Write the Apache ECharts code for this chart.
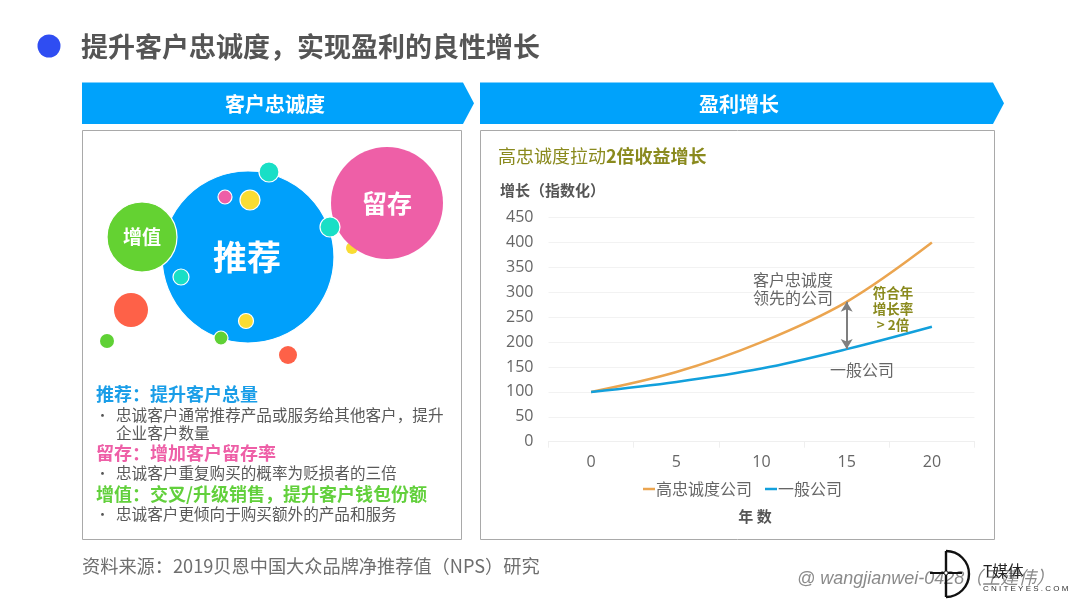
<!DOCTYPE html>
<html><head><meta charset="utf-8">
<style>html,body{margin:0;padding:0;background:#fff}#c{width:1080px;height:608px}</style>
<script src="https://cdn.jsdelivr.net/npm/echarts@6/dist/echarts.min.js"></script></head>
<body><div id="c"></div>
<script>
const years=['0','5','10','15','20'];
const loyal=[100,140,200,281,400];
const normal=[100,120,147,186,231];
const yTicksMax=450;
const F='"Noto Sans CJK SC","Noto Sans",sans-serif';
const bubbles=[
 [131,310,17,'#fe6148',0],[107,341,7,'#5fd135',0],[288,355,9,'#fe6148',0],
 [352,248,6,'#f9dc33',0],
 [248,257,86,'#00a0fb',1],
 [142,237,35,'#64d232',1],
 [387,203,56,'#ee5fa7',0],
 [269,172,10,'#19dfc6',1],[225,197,7,'#ee5fa7',1],[250,200,10,'#f9dc33',1],
 [330,227,10,'#19dfc6',1],[181,277,8,'#19dfc6',1],[246,321,7.5,'#f9dc33',1],[221,338,7,'#5fd135',1]
];
const txt=(x,y,s,size,fill,o={})=>({type:'text',x,y,silent:true,z:o.z||5,style:{text:s,fontSize:size,fill,fontFamily:o.font||F,fontWeight:o.w||'normal',fontStyle:o.i||'normal',align:o.a||'left',verticalAlign:'middle'}});
const arrow=(x0,x1,y0,y1,tip)=>({type:'polygon',z:2,shape:{points:[[x0,y0],[x1-tip,y0],[x1,(y0+y1)/2],[x1-tip,y1],[x0,y1]]},style:{fill:'#00a2fb'}});
const box=(x,y,w,h)=>({type:'rect',z:1,shape:{x,y,width:w,height:h},style:{fill:'none',stroke:'#a9a9a9',lineWidth:1}});
const g=[
 {type:'circle',z:2,shape:{cx:49,cy:46,r:11.5},style:{fill:'#2f4df2'}},
 txt(81,47,'提升客户忠诚度\uFF0C实现盈利的良性增长',27,'#555555',{w:'bold'}),
 arrow(82,474,82.5,124,11),arrow(480,1004,82.5,124,11),
 txt(275,104,'客户忠诚度',20,'#fff',{a:'center',w:'bold'}),
 txt(739,104,'盈利增长',20,'#fff',{a:'center',w:'bold'}),
 box(82.5,130.5,379,409),box(480.5,130.5,514,409),
 ...bubbles.map(b=>({type:'circle',z:3,shape:{cx:b[0],cy:b[1],r:b[2]},style:{fill:b[3],stroke:b[4]?'#fff':'none',lineWidth:b[4]?1.2:0}})),
 txt(247,257,'推荐',34,'#fff',{a:'center',w:'bold'}),
 txt(387,203,'留存',25,'#fff',{a:'center',w:'bold'}),
 txt(142,237,'增值',19,'#fff',{a:'center',w:'bold'}),
 txt(96,394,'推荐\uFF1A提升客户总量',18,'#1a9ee8',{w:'bold'}),
 txt(96,415,'•',13,'#555'),txt(116,415,'忠诚客户通常推荐产品或服务给其他客户\uFF0C提升',15.6,'#595959'),
 txt(116,433,'企业客户数量',15.6,'#595959'),
 txt(96,453,'留存\uFF1A增加客户留存率',18,'#ee5fa7',{w:'bold'}),
 txt(96,473,'•',13,'#555'),txt(116,473,'忠诚客户重复购买的概率为贬损者的三倍',15.6,'#595959'),
 txt(96,494,'增值\uFF1A交叉/升级销售\uFF0C提升客户钱包份额',18,'#62d03c',{w:'bold'}),
 txt(96,514,'•',13,'#555'),txt(116,514,'忠诚客户更倾向于购买额外的产品和服务',15.6,'#595959'),
 txt(498,156,'高忠诚度拉动',18,'#8a8a1e'),
 txt(606,156,'2倍收益增长',18,'#8a8a1e',{w:'bold'}),
 txt(500,190,'增长\uFF08指数化\uFF09',15,'#555',{w:'bold'}),
 txt(793,280,'客户忠诚度',16,'#666',{a:'center'}),txt(793,298,'领先的公司',16,'#666',{a:'center',z:6}),
 txt(862,370,'一般公司',16,'#666',{a:'center'}),
 txt(893,293,'符合年',13.5,'#8a8a1e',{a:'center',w:'bold'}),
 txt(893,309,'增长率',13.5,'#8a8a1e',{a:'center',w:'bold'}),
 txt(893,325,'> 2倍',13.5,'#8a8a1e',{a:'center',w:'bold'}),
 txt(755,516,'年 数',15,'#555',{a:'center',w:'bold'}),
 txt(82,566,'资料来源\uFF1A2019贝恩中国大众品牌净推荐值\uFF08NPS\uFF09研究',18.2,'#6e6e6e'),
 txt(797,579,'@ wangjianwei-0428\uFF08王建伟\uFF09',18,'#8a8a8a',{i:'italic',font:'"Liberation Sans","Noto Sans CJK SC",sans-serif'}),
 {type:'arc',z:6,shape:{cx:946,cy:574,r:23,startAngle:-Math.PI/2,endAngle:Math.PI/2,clockwise:true},style:{fill:'none',stroke:'#111',lineWidth:2.4}},
 {type:'line',z:6,shape:{x1:946,y1:551,x2:946,y2:597},style:{stroke:'#111',lineWidth:2.4}},
 {type:'line',z:6,shape:{x1:930,y1:573,x2:962,y2:573},style:{stroke:'#111',lineWidth:2}},
 {type:'circle',z:7,shape:{cx:946,cy:573,r:2},style:{fill:'#fff',stroke:'#111',lineWidth:0.8}},
 txt(983,571,'T媒体',15.6,'#222',{z:7}),
 txt(983,589,'C N I T E Y E S . C O M',8,'#333',{z:7,font:'"Liberation Sans",sans-serif'})
];
const chart=echarts.init(document.getElementById('c'));
chart.setOption({
 animation:false,backgroundColor:'#fff',
 textStyle:{fontFamily:F},
 grid:{left:548.5,top:217.7,width:426,height:224,containLabel:false},
 legend:{top:476,left:638,itemGap:13,itemWidth:12,itemHeight:2.5,icon:'rect',textStyle:{fontSize:16,color:'#666',padding:[0,0,0,-4]},
   data:['高忠诚度公司','一般公司']},
 xAxis:{type:'category',data:years,boundaryGap:true,
   axisLine:{lineStyle:{color:'#efefef'}},axisTick:{show:true,length:6,lineStyle:{color:'#efefef'}},
   axisLabel:{fontSize:16,color:'#666',margin:13,fontFamily:'"Open Sans",sans-serif'}},
 yAxis:{type:'value',min:0,max:yTicksMax,interval:50,
   axisLine:{show:false},axisTick:{show:false},
   splitLine:{lineStyle:{color:'#f2f2f2'}},
   axisLabel:{fontSize:16,color:'#666',margin:15,fontFamily:'"Open Sans",sans-serif'}},
 series:[
  {name:'高忠诚度公司',type:'line',data:loyal,smooth:0.35,showSymbol:false,lineStyle:{color:'#eba550',width:2.5},itemStyle:{color:'#eba550'},z:3},
  {name:'一般公司',type:'line',data:normal,smooth:0.35,showSymbol:false,lineStyle:{color:'#12a0dc',width:2.5},itemStyle:{color:'#12a0dc'},z:4,
   markLine:{silent:true,symbol:['arrow','arrow'],symbolSize:[9,10],label:{show:false},lineStyle:{color:'#7f7f7f',width:2,type:'solid'},
     data:[[{xAxis:'15',yAxis:loyal[3]},{xAxis:'15',yAxis:normal[3]}]]}}
 ],
 graphic:{elements:g}
});
</script></body></html>
